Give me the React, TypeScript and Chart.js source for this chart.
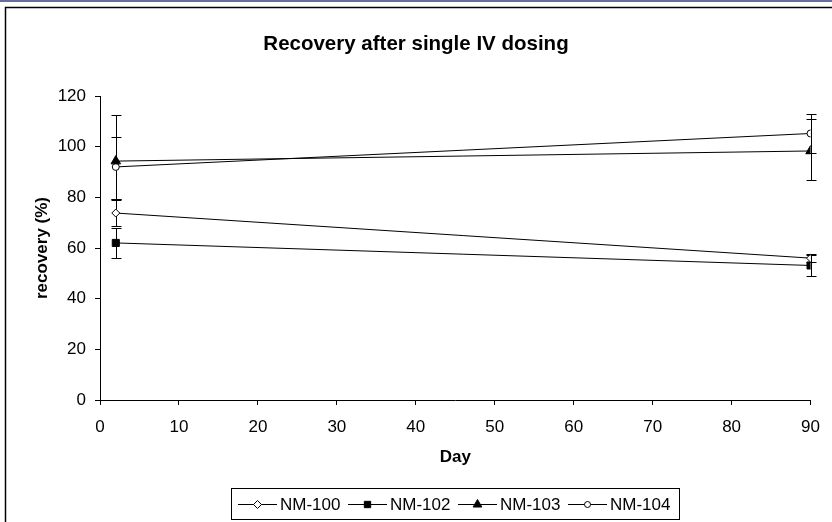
import React, { useEffect, useRef } from "react";
import { Chart, registerables } from "chart.js";

Chart.register(...registerables);

// ---- data ----
const days = [2, 90];
const seriesNames = ["NM-100", "NM-102", "NM-103", "NM-104"];
const nm100 = [73.8, 56.0];
const nm102 = [62.0, 53.1];
const nm103 = [94.3, 98.3];
const nm104 = [92.0, 105.2];
const nm100ErrPlus = [5.0, 1.7];
const nm100ErrMinus = [5.0, 1.7];
const nm102ErrPlus = [5.8, 4.2];
const nm102ErrMinus = [5.8, 4.2];
const nm103ErrPlus = [18.3, 12.5];
const nm103ErrMinus = [14.8, 11.5];
const nm104ErrPlus = [12.0, 7.8];
const nm104ErrMinus = [12.5, 7.8];
const xTickValues = [0, 10, 20, 30, 40, 50, 60, 70, 80, 90];
const yTickValues = [0, 20, 40, 60, 80, 100, 120];

const seriesValues = [nm100, nm102, nm103, nm104];
const errPlus = [nm100ErrPlus, nm102ErrPlus, nm103ErrPlus, nm104ErrPlus];
const errMinus = [nm100ErrMinus, nm102ErrMinus, nm103ErrMinus, nm104ErrMinus];
const markerStyles = ["rectRot", "rect", "triangle", "circle"];
const markerFill = ["#ffffff", "#000000", "#000000", "#ffffff"];
const markerRadius = [4, 5, 5.5, 3.5];
const legendMarkerRadius = [4, 4.5, 5, 3];

const FONT = "'Liberation Sans', Arial, Helvetica, sans-serif";

function drawMarker(ctx: CanvasRenderingContext2D, style: string, x: number, y: number, r: number, fill: string) {
  ctx.beginPath();
  if (style === "rectRot") {
    ctx.moveTo(x, y - r);
    ctx.lineTo(x + r, y);
    ctx.lineTo(x, y + r);
    ctx.lineTo(x - r, y);
    ctx.closePath();
  } else if (style === "rect") {
    const s = r * Math.SQRT1_2;
    ctx.rect(x - s, y - s, 2 * s, 2 * s);
  } else if (style === "triangle") {
    ctx.moveTo(x, y - r);
    ctx.lineTo(x + r * 0.866, y + r * 0.5);
    ctx.lineTo(x - r * 0.866, y + r * 0.5);
    ctx.closePath();
  } else {
    ctx.arc(x, y, r, 0, Math.PI * 2);
  }
  ctx.fillStyle = fill;
  ctx.fill();
  ctx.strokeStyle = "#000";
  ctx.lineWidth = 1;
  ctx.stroke();
}

const framePlugin = {
  id: "frame",
  beforeDraw(chart: any) {
    const ctx = chart.ctx;
    ctx.save();
    ctx.fillStyle = "#ffffff";
    ctx.fillRect(0, 0, chart.width, chart.height);
    ctx.fillStyle = "#6b6b9e";
    ctx.fillRect(0, 0, chart.width, 2);
    ctx.strokeStyle = "#000";
    ctx.lineWidth = 1.5;
    ctx.strokeRect(5.5, 7.5, chart.width + 50, chart.height + 50);
    ctx.restore();
  },
};

const errorBarPlugin = {
  id: "errorBars",
  beforeDatasetsDraw(chart: any) {
    const ctx = chart.ctx;
    const x = chart.scales.x;
    const y = chart.scales.y;
    ctx.save();
    ctx.strokeStyle = "#000";
    ctx.lineWidth = 1;
    seriesValues.forEach((vals, i) => {
      vals.forEach((v, j) => {
        const px = Math.round(x.getPixelForValue(days[j])) + 0.5;
        const yt = Math.round(y.getPixelForValue(v + errPlus[i][j])) + 0.5;
        const yb = Math.round(y.getPixelForValue(v - errMinus[i][j])) + 0.5;
        ctx.beginPath();
        ctx.moveTo(px, yt);
        ctx.lineTo(px, yb);
        ctx.moveTo(px - 5, yt);
        ctx.lineTo(px + 5, yt);
        ctx.moveTo(px - 5, yb);
        ctx.lineTo(px + 5, yb);
        ctx.stroke();
      });
    });
    ctx.restore();
  },
};

// Boxed legend drawn under the x-axis title
const legendPlugin = {
  id: "boxedLegend",
  afterDraw(chart: any) {
    const ctx = chart.ctx;
    const boxLeft = 231.5;
    const boxTop = 488.5;
    const boxW = 448;
    const boxH = 31;
    const cy = boxTop + boxH / 2;
    const itemStart = 238;
    const itemStep = 110;
    const iconW = 39;
    ctx.save();
    ctx.strokeStyle = "#000";
    ctx.lineWidth = 1;
    ctx.strokeRect(boxLeft, boxTop, boxW, boxH);
    ctx.font = `17px ${FONT}`;
    ctx.textBaseline = "middle";
    ctx.fillStyle = "#000";
    chart.data.datasets.forEach((ds: any, i: number) => {
      const x0 = itemStart + itemStep * i;
      const ly = Math.round(cy) + 0.5;
      ctx.beginPath();
      ctx.moveTo(x0, ly);
      ctx.lineTo(x0 + iconW, ly);
      ctx.strokeStyle = "#000";
      ctx.lineWidth = 1;
      ctx.stroke();
      drawMarker(ctx, markerStyles[i], x0 + iconW / 2, ly, legendMarkerRadius[i], markerFill[i]);
      ctx.fillStyle = "#000";
      ctx.textAlign = "left";
      ctx.fillText(ds.label, x0 + iconW + 3, cy + 1);
    });
    ctx.restore();
  },
};

export default function App() {
  const ref = useRef<HTMLCanvasElement | null>(null);

  useEffect(() => {
    document.body.style.margin = "0";
    const canvas = ref.current!;

    const datasets = seriesNames.map((name, i) => ({
      label: name,
      data: days.map((d, j) => ({ x: d, y: seriesValues[i][j] })),
      borderColor: "#000000",
      borderWidth: 1,
      backgroundColor: markerFill[i],
      pointStyle: markerStyles[i],
      pointRadius: markerRadius[i],
      pointBackgroundColor: markerFill[i],
      pointBorderColor: "#000000",
      pointBorderWidth: 1,
      tension: 0,
      fill: false,
    }));

    const chart = new Chart(canvas, {
      type: "line",
      data: { datasets },
      plugins: [framePlugin, errorBarPlugin, legendPlugin],
      options: {
        animation: false,
        responsive: false,
        devicePixelRatio: 1,
        layout: { padding: { left: 19, right: 19, top: 0, bottom: 37 } },
        font: { family: FONT },
        plugins: {
          tooltip: { enabled: false },
          legend: { display: false },
          title: {
            display: true,
            text: "Recovery after single IV dosing",
            color: "#000",
            font: { family: FONT, size: 20.5, weight: "bold" },
            padding: { top: 31.7, bottom: 39.7 },
          },
        },
        scales: {
          x: {
            type: "linear",
            min: 0,
            max: 90,
            afterBuildTicks: (s: any) => {
              s.ticks = xTickValues.map((v) => ({ value: v }));
            },
            afterFit: (s: any) => {
              s.height = 85;
            },
            grid: { drawOnChartArea: false, drawTicks: true, tickLength: 5, color: "#000" },
            border: { display: true, color: "#000", width: 1 },
            ticks: { color: "#000", font: { family: FONT, size: 17 }, padding: 12, maxRotation: 0 },
            title: {
              display: true,
              text: "Day",
              color: "#000",
              font: { family: FONT, size: 17, weight: "bold" },
              padding: { top: 0, bottom: 17 },
            },
          },
          y: {
            type: "linear",
            min: 0,
            max: 120,
            afterBuildTicks: (s: any) => {
              s.ticks = yTickValues.map((v) => ({ value: v }));
            },
            afterFit: (s: any) => {
              s.width = 81;
            },
            grid: { drawOnChartArea: false, drawTicks: true, tickLength: 5, color: "#000" },
            border: { display: true, color: "#000", width: 1 },
            ticks: { color: "#000", font: { family: FONT, size: 17 }, padding: 9 },
            title: {
              display: true,
              text: "recovery (%)",
              color: "#000",
              font: { family: FONT, size: 17, weight: "bold" },
              padding: { top: 12.8, bottom: 0 },
            },
          },
        },
      } as any,
    });

    return () => chart.destroy();
  }, []);

  return <canvas ref={ref} width={832} height={522} style={{ display: "block" }} />;
}
